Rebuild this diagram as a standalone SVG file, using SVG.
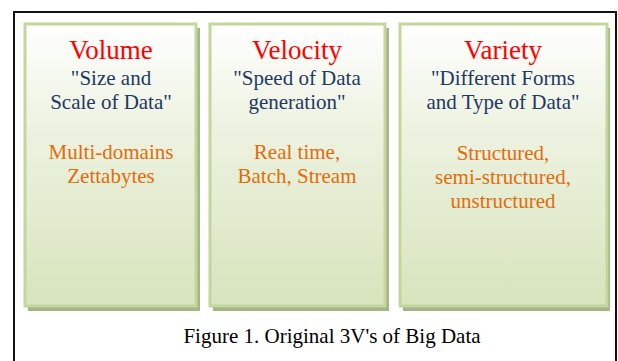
<svg xmlns="http://www.w3.org/2000/svg" width="618" height="361" viewBox="0 0 618 361">
  <defs>
    <linearGradient id="fillV" x1="0" y1="0" x2="0" y2="1">
      <stop offset="0" stop-color="#ffffff"/>
      <stop offset="0.35" stop-color="#eef3e2"/>
      <stop offset="1" stop-color="#d7e4bc"/>
    </linearGradient>
    <style>
      .shadow { fill: #a5b58a; }
      .card { fill: url(#fillV); stroke: #c3d69b; stroke-width: 3; }
      .title { fill: #ff0000; font-size: 27px; }
      .sub { fill: #1f3864; font-size: 21px; }
      .detail { fill: #e36c0a; font-size: 21px; }
      .caption { fill: #000000; font-size: 21px; }
    </style>
  </defs>

  <rect width="618" height="361" fill="#ffffff"/>
  <!-- outer figure frame -->
  <path d="M14 366 V12 H616 V366" fill="none" stroke="#111111" stroke-width="2"/>

  <g style="font-family: 'Liberation Serif', 'Times New Roman', serif" text-anchor="middle">
    <g id="volume">
      <rect class="shadow" x="28" y="28" width="172" height="283"/>
      <rect class="card" x="25" y="24" width="171" height="282"/>
      <text class="title" x="111" y="59">Volume</text>
      <text class="sub" x="111" y="85">"Size and</text>
      <text class="sub" x="111" y="109">Scale of Data"</text>
      <text class="detail" x="111" y="159">Multi-domains</text>
      <text class="detail" x="111" y="183">Zettabytes</text>
    </g>

    <g id="velocity">
      <rect class="shadow" x="213" y="28" width="176" height="283"/>
      <rect class="card" x="210" y="24" width="175" height="282"/>
      <text class="title" x="297" y="59">Velocity</text>
      <text class="sub" x="297" y="85">"Speed of Data</text>
      <text class="sub" x="297" y="109">generation"</text>
      <text class="detail" x="297" y="159">Real time,</text>
      <text class="detail" x="297" y="183">Batch, Stream</text>
    </g>

    <g id="variety">
      <rect class="shadow" x="403" y="28" width="207" height="283"/>
      <rect class="card" x="400" y="24" width="207" height="282"/>
      <text class="title" x="503" y="59">Variety</text>
      <text class="sub" x="503" y="85">"Different Forms</text>
      <text class="sub" x="503" y="109">and Type of Data"</text>
      <text class="detail" x="503" y="160">Structured,</text>
      <text class="detail" x="503" y="184">semi-structured,</text>
      <text class="detail" x="503" y="208">unstructured</text>
    </g>

    <g id="connectors"/>

    <text class="caption" x="332" y="343">Figure 1. Original 3V's of Big Data</text>
  </g>
</svg>
